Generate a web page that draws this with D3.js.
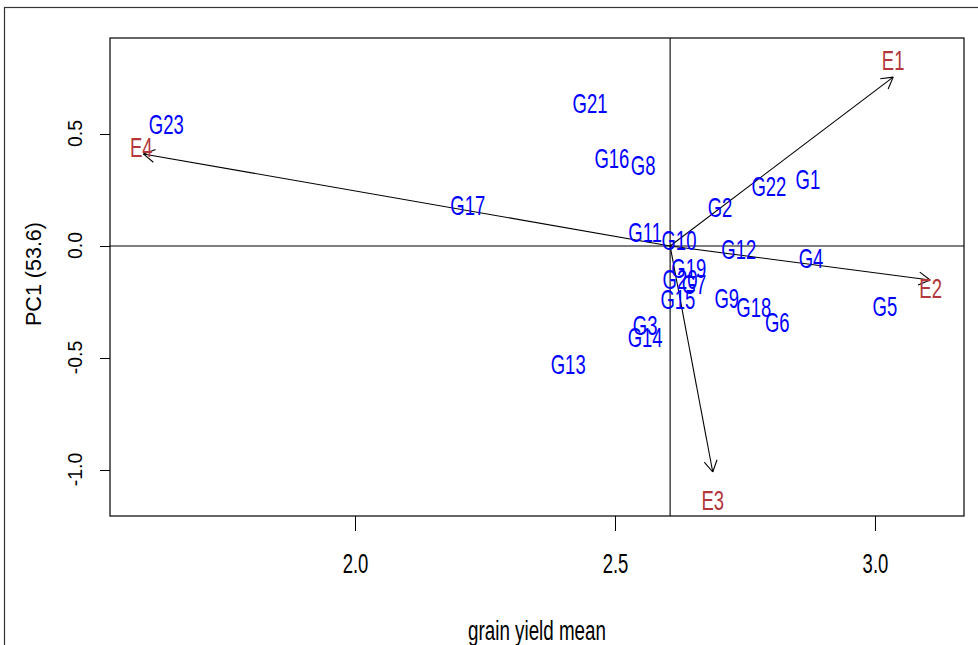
<!DOCTYPE html>
<html>
<head>
<meta charset="utf-8">
<script src="https://cdn.jsdelivr.net/npm/d3@7"></script>
<style>
  html, body { margin: 0; padding: 0; background: #fff; }
  svg { display: block; }
  text { font-family: "Liberation Sans", Arial, sans-serif; }
</style>
</head>
<body>
<script>
// ---- data ----
const xDomain = [1.5288, 3.1712];
const yDomain = [-1.2054, 0.9286];
const xTicks = [2.0, 2.5, 3.0];
const yTicks = [-1.0, -0.5, 0.0, 0.5];
const xTitle = "grain yield mean";
const yTitle = "PC1 (53.6)";
const originMean = 2.606;   // grand mean (vertical reference line)
const originPC = 0;         // horizontal reference line

const genotypes = ["G1","G2","G3","G4","G5","G6","G7","G8","G9","G10","G11","G12",
                   "G13","G14","G15","G16","G17","G18","G19","G20","G21","G22","G23"];
const genoMean = [2.871, 2.702, 2.558, 2.877, 3.019, 2.812, 2.652, 2.554, 2.715, 2.623, 2.558, 2.738,
                  2.410, 2.558, 2.621, 2.494, 2.217, 2.767, 2.642, 2.625, 2.452, 2.796, 1.637];
const genoPC1 = [0.299, 0.174, -0.353, -0.054, -0.268, -0.339, -0.170, 0.362, -0.232, 0.027, 0.063, -0.013,
                 -0.527, -0.406, -0.237, 0.393, 0.181, -0.272, -0.098, -0.147, 0.636, 0.268, 0.545];

const envs = ["E1","E2","E3","E4"];
const envArrowMean = [3.035, 3.106, 2.688, 1.593];
const envArrowPC1 = [0.754, -0.152, -1.009, 0.411];
const envLabelMean = [3.035, 3.107, 2.688, 1.589];
const envLabelPC1 = [0.830, -0.188, -1.134, 0.442];

(function () {
// ---- layout ----
const W = 978, H = 645;
const pL = 110, pR = 964, pT = 38, pB = 516;
const stretch = 1.5;  // vertical text stretch of the reference
const fontSize = 18.5;

const svg = d3.select("body").append("svg").attr("width", W).attr("height", H);

// outer frame
svg.append("rect").attr("x", 4.5).attr("y", 7.5).attr("width", 1200).attr("height", 900)
  .attr("fill", "none").attr("stroke", "#333").attr("stroke-width", 1.2);

const x = d3.scaleLinear().domain(xDomain).range([pL, pR]);
const y = d3.scaleLinear().domain(yDomain).range([pB, pT]);

// x axis
const gx = svg.append("g").attr("transform", `translate(0,${pB})`)
  .call(d3.axisBottom(x).tickValues(xTicks).tickSize(15).tickFormat(d => d.toFixed(1)).tickSizeOuter(0));
gx.select(".domain").remove();
gx.selectAll("line").attr("stroke", "#000");
gx.selectAll("text").attr("y", null)
  .attr("transform", `translate(0,47) scale(1,${stretch})`)
  .attr("dy", "0.35em")
  .attr("font-size", fontSize).attr("fill", "#000").attr("font-family", "Liberation Sans, Arial, sans-serif");

// y axis
const gy = svg.append("g").attr("transform", `translate(${pL},0)`)
  .call(d3.axisLeft(y).tickValues(yTicks).tickSize(10).tickFormat(d => d.toFixed(1)).tickSizeOuter(0));
gy.select(".domain").remove();
gy.selectAll("line").attr("stroke", "#000");
gy.selectAll("text").attr("x", null)
  .attr("transform", "translate(-35,-1) rotate(-90)")
  .attr("text-anchor", "middle")
  .attr("dy", "0.35em")
  .attr("font-size", 19.5).attr("fill", "#000").attr("font-family", "Liberation Sans, Arial, sans-serif");

// box
svg.append("rect").attr("x", pL).attr("y", pT).attr("width", pR - pL).attr("height", pB - pT)
  .attr("fill", "none").attr("stroke", "#000").attr("stroke-width", 1.2);

// reference lines
svg.append("line").attr("x1", x(originMean)).attr("x2", x(originMean)).attr("y1", pT).attr("y2", pB)
  .attr("stroke", "#000").attr("stroke-width", 1.1);
svg.append("line").attr("x1", pL).attr("x2", pR).attr("y1", y(originPC)).attr("y2", y(originPC))
  .attr("stroke", "#000").attr("stroke-width", 1.1);

// arrows
const ox = x(originMean), oy = y(originPC);
const headLen = 13, headAng = Math.PI / 6;
envs.forEach((e, i) => {
  const tx = x(envArrowMean[i]), ty = y(envArrowPC1[i]);
  const g = svg.append("g").attr("stroke", "#000").attr("stroke-width", 1.1).attr("fill", "none");
  g.append("line").attr("x1", ox).attr("y1", oy).attr("x2", tx).attr("y2", ty);
  const ang = Math.atan2(ty - oy, tx - ox);
  [1, -1].forEach(s => {
    g.append("line").attr("x1", tx).attr("y1", ty)
      .attr("x2", tx - headLen * Math.cos(ang + s * headAng))
      .attr("y2", ty - headLen * Math.sin(ang + s * headAng));
  });
});

// genotype labels
genotypes.forEach((gname, i) => {
  svg.append("text")
    .attr("transform", `translate(${x(genoMean[i])},${y(genoPC1[i])}) scale(1,${stretch})`)
    .attr("text-anchor", "middle").attr("dy", "0.35em")
    .attr("font-size", fontSize).attr("fill", "#0000FF")
    .text(gname);
});

// environment labels
envs.forEach((e, i) => {
  svg.append("text")
    .attr("transform", `translate(${x(envLabelMean[i])},${y(envLabelPC1[i])}) scale(1,${stretch})`)
    .attr("text-anchor", "middle").attr("dy", "0.35em")
    .attr("font-size", fontSize).attr("fill", "#B2363A")
    .text(e);
});

// axis titles
svg.append("text")
  .attr("transform", `translate(${(pL + pR) / 2},640) scale(1,${stretch})`)
  .attr("text-anchor", "middle")
  .attr("font-size", 18.8).attr("fill", "#000")
  .text(xTitle);

svg.append("text")
  .attr("transform", `translate(33,${(pT + pB) / 2 - 3}) rotate(-90)`)
  .attr("text-anchor", "middle").attr("dy", "0.35em")
  .attr("font-size", 21.5).attr("fill", "#000")
  .text(yTitle);
})();
</script>
</body>
</html>
